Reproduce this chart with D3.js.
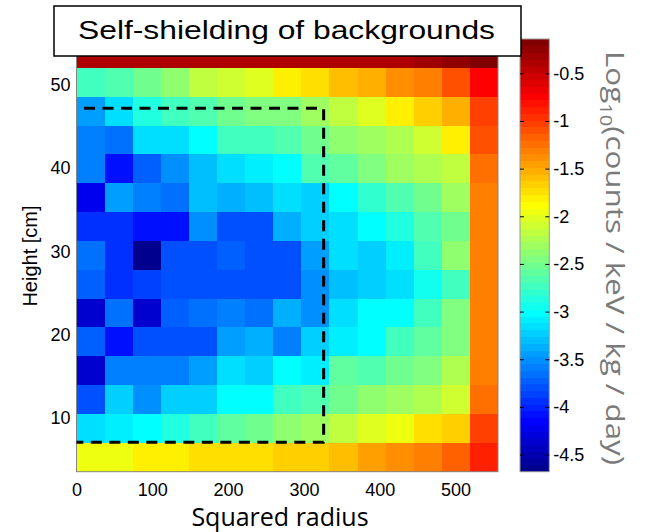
<!DOCTYPE html>
<html>
<head>
<meta charset="utf-8">
<script src="https://cdn.jsdelivr.net/npm/d3@7"></script>
<style>
  body { margin: 0; background: #fff; }
  svg { display: block; }
</style>
</head>
<body>
<svg id="chart" width="652" height="532"></svg>
<script>
// Bin edges: squared radius (cm^2) and height (cm, listed top to bottom)
const r2Edges = [0, 37.07, 74.13, 111.2, 148.27, 185.33, 222.4, 259.47, 296.53, 333.6, 370.67, 407.73, 444.8, 481.87, 518.93, 556];
const zEdges = [55.54, 52.07, 48.6, 45.12, 41.65, 38.18, 34.71, 31.24, 27.77, 24.3, 20.83, 17.36, 13.88, 10.41, 6.94, 3.47];

// log10(counts / keV / kg / day), one row per height bin, top row first
const row01 = [-0.37, -0.37, -0.37, -0.37, -0.37, -0.37, -0.37, -0.37, -0.37, -0.37, -0.37, -0.37, -0.32, -0.25, -0.14];
const row02 = [-2.75, -2.64, -2.52, -2.35, -2.18, -2.07, -2.00, -1.84, -1.75, -1.62, -1.50, -1.39, -1.28, -1.12, -0.75];
const row03 = [-3.43, -3.14, -2.84, -2.75, -2.64, -2.52, -2.43, -2.41, -2.30, -2.13, -2.00, -1.84, -1.68, -1.55, -1.01];
const row04 = [-3.61, -3.68, -3.14, -3.14, -2.98, -2.75, -2.73, -2.68, -2.52, -2.36, -2.30, -2.23, -2.07, -1.84, -1.09];
const row05 = [-3.55, -4.11, -3.74, -3.50, -3.27, -3.14, -3.05, -2.98, -2.68, -2.59, -2.43, -2.30, -2.23, -2.16, -1.23];
const row06 = [-4.19, -3.41, -3.61, -3.68, -3.27, -3.36, -3.27, -3.14, -3.23, -2.98, -2.77, -2.68, -2.52, -2.30, -1.32];
const row07 = [-3.96, -3.96, -4.11, -4.07, -3.50, -3.79, -3.79, -3.36, -3.20, -3.14, -2.98, -2.84, -2.68, -2.52, -1.32];
const row08 = [-3.68, -3.96, -4.68, -3.79, -3.79, -3.73, -3.79, -3.79, -3.43, -3.14, -3.20, -3.05, -2.75, -2.36, -1.32];
const row09 = [-3.73, -3.96, -3.89, -3.79, -3.79, -3.77, -3.79, -3.79, -3.50, -3.27, -3.20, -3.14, -2.91, -2.75, -1.32];
const row10 = [-4.34, -3.68, -4.34, -3.73, -3.68, -3.61, -3.68, -3.36, -3.50, -3.14, -2.98, -2.98, -2.75, -2.43, -1.32];
const row11 = [-3.73, -4.11, -3.79, -3.79, -3.79, -3.43, -3.36, -3.61, -3.20, -3.05, -2.98, -2.75, -2.59, -2.43, -1.32];
const row12 = [-4.34, -3.61, -3.61, -3.61, -3.43, -3.14, -3.20, -2.98, -3.05, -2.59, -2.68, -2.52, -2.43, -2.23, -1.28];
const row13 = [-3.79, -3.20, -3.50, -3.20, -3.20, -2.98, -2.98, -2.75, -2.68, -2.52, -2.36, -2.30, -2.23, -2.07, -1.21];
const row14 = [-3.14, -3.05, -2.98, -2.84, -2.75, -2.59, -2.52, -2.36, -2.27, -2.16, -2.02, -1.93, -1.77, -1.68, -1.03];
const row15 = [-1.93, -1.92, -1.84, -1.84, -1.77, -1.77, -1.75, -1.68, -1.64, -1.57, -1.48, -1.39, -1.28, -1.16, -0.87];
const rows = [row01, row02, row03, row04, row05, row06, row07, row08, row09, row10, row11, row12, row13, row14, row15];

// Axis ticks
const xTicks = [0, 100, 200, 300, 400, 500];
const yTicks = [10, 20, 30, 40, 50];
const cTicks = [-4.5, -4, -3.5, -3, -2.5, -2, -1.5, -1, -0.5];

// Fiducial volume outline: r^2 limit and height limits
const fiducialR2 = [0, 326, 326, 0];
const fiducialZ = [47.2, 47.2, 7, 7];

// 64-level jet colour table
function jet64() {
  const m = 64, n = 16;
  const u = [];
  for (let i = 1; i <= n; i++) u.push(i / n);
  for (let i = 1; i < n; i++) u.push(1);
  for (let i = n; i >= 1; i--) u.push(i / n);
  const R = new Array(m).fill(0), G = new Array(m).fill(0), B = new Array(m).fill(0);
  u.forEach((val, j) => {
    const g = 8 + j; // zero-based index
    if (g >= 0 && g < m) G[g] = val;
    if (g + n >= 0 && g + n < m) R[g + n] = val;
    if (g - n >= 0 && g - n < m) B[g - n] = val;
  });
  return d3.range(m).map(i => d3.rgb(R[i] * 255, G[i] * 255, B[i] * 255).formatHex());
}
const jet = jet64();

const svg = d3.select("#chart");
const plot = { left: 76.5, right: 498, top: 39, bottom: 471.7 };

const x = d3.scaleLinear().domain([r2Edges[0], r2Edges[r2Edges.length - 1]]).range([plot.left, plot.right]);
const y = d3.scaleLinear().domain([zEdges[zEdges.length - 1], zEdges[0]]).range([plot.bottom, plot.top]);

const allValues = rows.flat();
const cExtent = d3.extent(allValues);
const color = d3.scaleQuantize().domain(cExtent).range(jet);

// Heat-map cells
const cells = [];
rows.forEach((row, i) => {
  row.forEach((v, j) => {
    cells.push({ x0: r2Edges[j], x1: r2Edges[j + 1], z0: zEdges[i + 1], z1: zEdges[i], v });
  });
});

svg.append("g")
  .selectAll("rect")
  .data(cells)
  .join("rect")
  .attr("x", d => x(d.x0))
  .attr("y", d => y(d.z1))
  .attr("width", d => x(d.x1) - x(d.x0) + 0.4)
  .attr("height", d => y(d.z0) - y(d.z1) + 0.4)
  .attr("fill", d => color(d.v))
  .attr("shape-rendering", "crispEdges");

// Plot frame
svg.append("rect")
  .attr("x", plot.left).attr("y", plot.top)
  .attr("width", plot.right - plot.left).attr("height", plot.bottom - plot.top)
  .attr("fill", "none").attr("stroke", "#858585").attr("stroke-width", 1);

// Fiducial outline
const fid = fiducialR2.map((r, i) => [r, fiducialZ[i]]);
svg.append("path")
  .attr("d", d3.line().x(d => x(d[0])).y(d => y(d[1]))(fid))
  .attr("fill", "none")
  .attr("stroke", "#000")
  .attr("stroke-width", 3)
  .attr("stroke-linejoin", "round")
  .attr("stroke-dasharray", "11,7.5")
  .attr("stroke-dashoffset", 11);

const tickFont = "'Liberation Sans', Arial, sans-serif";

// X axis
const xAxis = svg.append("g")
  .attr("transform", `translate(0,${plot.bottom})`)
  .call(d3.axisBottom(x).tickValues(xTicks).tickSize(0).tickPadding(11.5));
xAxis.select(".domain").remove();
xAxis.selectAll("text").attr("font-family", tickFont).attr("font-size", 18).attr("fill", "#000");

// Y axis
const yAxis = svg.append("g")
  .attr("transform", `translate(${plot.left},0)`)
  .call(d3.axisLeft(y).tickValues(yTicks).tickSize(0).tickPadding(6));
yAxis.select(".domain").remove();
yAxis.selectAll("text").attr("font-family", tickFont).attr("font-size", 18).attr("fill", "#000");

// Axis titles
svg.append("text")
  .attr("x", 280).attr("y", 526)
  .attr("text-anchor", "middle")
  .attr("font-family", "'Open Sans', 'Noto Sans', sans-serif")
  .attr("font-size", 25)
  .attr("fill", "#000")
  .text("Squared radius");

svg.append("text")
  .attr("transform", "translate(37,256) rotate(-90)")
  .attr("text-anchor", "middle")
  .attr("font-family", tickFont)
  .attr("font-size", 20)
  .attr("fill", "#000")
  .text("Height [cm]");

// Colour bar
const cb = { left: 520, right: 549.3, top: 39, bottom: 471.7 };
const cy = d3.scaleLinear().domain(cExtent).range([cb.bottom, cb.top]);
const levels = d3.range(jet.length);
const step = (cExtent[1] - cExtent[0]) / jet.length;
svg.append("g")
  .selectAll("rect")
  .data(levels)
  .join("rect")
  .attr("x", cb.left)
  .attr("y", i => cy(cExtent[0] + (i + 1) * step))
  .attr("width", cb.right - cb.left)
  .attr("height", i => cy(cExtent[0] + i * step) - cy(cExtent[0] + (i + 1) * step) + 0.5)
  .attr("fill", i => jet[i])
  .attr("shape-rendering", "crispEdges");

svg.append("rect")
  .attr("x", cb.left).attr("y", cb.top)
  .attr("width", cb.right - cb.left).attr("height", cb.bottom - cb.top)
  .attr("fill", "none").attr("stroke", "#999").attr("stroke-width", 1);

const cAxisR = svg.append("g")
  .attr("transform", `translate(${cb.right},0)`)
  .call(d3.axisRight(cy).tickValues(cTicks).tickSizeInner(-4).tickSizeOuter(0).tickPadding(4).tickFormat(d => String(d)));
cAxisR.select(".domain").remove();
cAxisR.selectAll("line").attr("stroke", "#000");
cAxisR.selectAll("text").attr("font-family", tickFont).attr("font-size", 18).attr("fill", "#000");

const cAxisL = svg.append("g")
  .attr("transform", `translate(${cb.left},0)`)
  .call(d3.axisLeft(cy).tickValues(cTicks).tickSizeInner(-4).tickSizeOuter(0).tickFormat(""));
cAxisL.select(".domain").remove();
cAxisL.selectAll("line").attr("stroke", "#000");

// Colour bar label
const cLabel = svg.append("text")
  .attr("transform", "translate(606,258) rotate(90)")
  .attr("text-anchor", "middle")
  .attr("font-family", "'Open Sans', 'Noto Sans', sans-serif")
  .attr("font-size", 25)
  .attr("fill", "#7a7a7a")
  .attr("textLength", 414)
  .attr("lengthAdjust", "spacingAndGlyphs");
cLabel.append("tspan").text("Log");
cLabel.append("tspan").attr("font-size", 16).attr("dy", 6).text("10");
cLabel.append("tspan").attr("dy", -6).text("(counts / keV / kg / day)");

// Title box
svg.append("rect")
  .attr("x", 54).attr("y", 6)
  .attr("width", 467).attr("height", 50)
  .attr("fill", "#fff").attr("stroke", "#000").attr("stroke-width", 1.5);
svg.append("text")
  .attr("x", 286.5).attr("y", 38.5)
  .attr("text-anchor", "middle")
  .attr("font-family", tickFont)
  .attr("font-size", 25)
  .attr("fill", "#000")
  .attr("textLength", 417)
  .attr("lengthAdjust", "spacingAndGlyphs")
  .text("Self-shielding of backgrounds");
</script>
</body>
</html>
